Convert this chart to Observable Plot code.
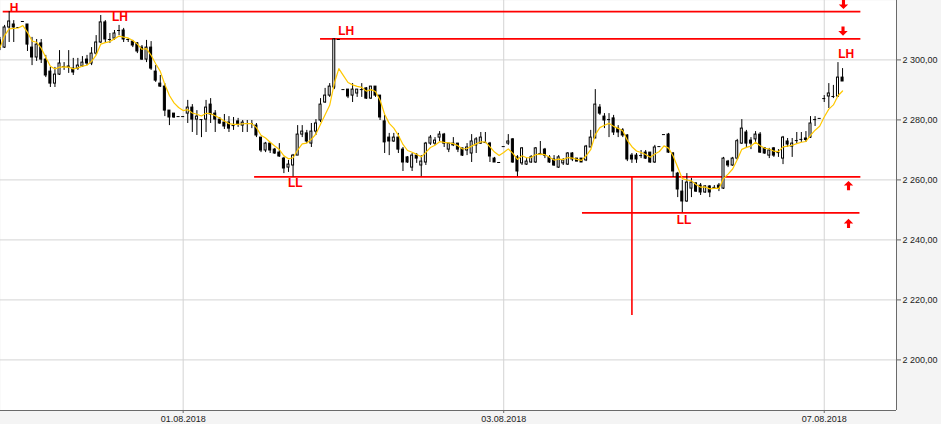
<!DOCTYPE html>
<html>
<head>
<meta charset="utf-8">
<script src="https://cdn.jsdelivr.net/npm/d3@7"></script>
<script src="https://cdn.jsdelivr.net/npm/@observablehq/plot@0.6"></script>
<style>
  html, body { margin: 0; padding: 0; background: #f4f4f4; }
</style>
</head>
<body>
<script>
// ---- DATA ----
const open = [2306.5,2304.1,2310.8,2311.8,2310.8,2312.8,2311.8,2304.1,2300.8,2305.5,
2300.1,2296.1,2292.1,2295.1,2297.8,2297.8,2297.1,2297.1,2297.8,2300.1,
2298.8,2302.1,2305.8,2312.5,2306.8,2307.1,2309.8,2309.8,2306.8,2306.1,
2305.5,2304.1,2300.1,2304.1,2296.1,2292.1,2291.1,2283.1,2282.1,2281.1,
2281.1,2282.1,2284.1,2280.1,2280.1,2280.1,2285.1,2282.1,2280.1,2279.1,
2279.1,2278.1,2279.5,2278.1,2278.8,2278.8,2278.1,2274.1,2269.8,2272.1,
2270.1,2269.1,2267.1,2264.1,2264.8,2268.1,2275.1,2275.5,2272.1,2276.1,
2279.8,2285.8,2288.1,2290.8,2306.8,2290.1,2290.1,2288.1,2288.8,2290.1,
2290.5,2287.1,2291.1,2288.1,2279.5,2274.1,2272.8,2274.1,2270.1,2267.5,
2264.1,2268.1,2264.8,2265.8,2272.1,2272.1,2274.1,2275.1,2270.1,2272.1,
2272.1,2270.5,2269.8,2268.8,2271.5,2272.1,2272.5,2272.1,2267.1,2265.8,
2271.1,2272.1,2273.5,2267.5,2265.5,2265.1,2265.8,2265.8,2268.8,2270.1,
2267.5,2266.8,2264.1,2265.5,2265.1,2268.8,2267.1,2267.1,2266.5,2270.8,
2273.8,2284.1,2281.1,2280.1,2280.5,2277.1,2276.5,2274.8,2268.1,2268.1,
2268.1,2269.1,2269.1,2265.8,2271.1,2275.1,2275.1,2268.8,2262.1,2256.1,
2252.8,2257.1,2258.8,2258.1,2255.8,2257.8,2257.5,2258.1,2257.1,2266.1,
2264.8,2267.1,2272.1,2275.8,2273.1,2273.5,2275.1,2270.5,2268.1,2270.5,
2269.1,2267.1,2272.8,2271.1,2273.1,2273.5,2273.8,2274.1,2280.1,2280.5,
2287.1,2287.8,2287.8,2287.8,2294.1];
const high = [2307.5,2311.5,2316.1,2313.1,2310.8,2312.8,2311.8,2307.5,2306.8,2306.8,
2301.5,2297.5,2297.5,2303.1,2299.1,2303.1,2300.5,2300.5,2301.1,2301.5,
2304.1,2308.1,2314.8,2313.1,2308.8,2309.8,2311.5,2310.5,2307.1,2306.5,
2305.8,2304.8,2306.5,2306.1,2298.1,2294.8,2292.1,2283.1,2282.1,2281.1,
2281.1,2286.5,2285.1,2283.1,2280.1,2286.5,2287.1,2283.1,2280.8,2281.8,
2281.1,2280.8,2280.5,2279.8,2279.8,2279.8,2278.8,2274.1,2272.5,2272.5,
2270.5,2272.1,2267.5,2266.5,2268.5,2278.1,2278.1,2276.5,2278.8,2280.1,
2287.1,2290.5,2292.1,2307.0,2306.8,2290.1,2290.1,2292.1,2290.1,2292.1,
2290.8,2291.1,2291.1,2288.1,2281.5,2275.5,2275.5,2275.5,2270.8,2267.8,
2268.8,2268.8,2268.1,2272.5,2274.8,2274.1,2276.1,2275.5,2272.1,2274.1,
2272.1,2270.5,2272.1,2275.1,2274.1,2275.8,2275.8,2272.5,2267.5,2265.8,
2271.1,2275.1,2273.8,2268.1,2270.8,2267.1,2268.1,2270.8,2272.8,2270.5,
2268.1,2268.1,2268.1,2267.1,2269.1,2269.1,2267.1,2267.1,2271.5,2276.5,
2290.1,2285.1,2282.1,2282.1,2281.5,2278.1,2277.1,2275.1,2268.8,2268.8,
2269.8,2269.8,2269.1,2271.5,2271.1,2275.1,2275.5,2269.1,2262.5,2259.8,
2262.1,2260.5,2259.1,2258.8,2258.1,2258.1,2258.1,2258.8,2267.5,2266.5,
2267.5,2273.5,2280.1,2276.5,2274.1,2276.1,2275.8,2270.8,2270.5,2270.8,
2270.1,2274.5,2273.8,2273.8,2275.8,2275.8,2276.1,2281.1,2281.1,2280.5,
2288.1,2292.1,2291.5,2299.1,2297.1];
const low = [2303.1,2303.8,2305.8,2305.8,2310.8,2312.8,2302.8,2298.1,2299.5,2298.8,
2294.1,2290.8,2290.8,2294.8,2296.5,2295.5,2294.8,2296.5,2297.5,2298.1,
2298.1,2301.5,2305.5,2305.5,2305.5,2306.5,2308.1,2305.8,2305.8,2304.1,
2302.1,2299.8,2299.1,2296.5,2292.5,2290.8,2281.1,2278.1,2280.5,2281.1,
2281.1,2278.8,2275.8,2274.8,2274.1,2275.8,2278.8,2275.8,2278.5,2276.8,
2275.8,2276.5,2277.5,2275.8,2275.8,2277.1,2274.1,2269.1,2269.1,2268.8,
2268.5,2267.5,2262.1,2262.5,2261.0,2268.1,2274.1,2272.1,2270.8,2274.8,
2279.1,2285.5,2287.5,2290.1,2306.8,2290.1,2287.1,2285.8,2287.5,2287.5,
2286.8,2286.8,2287.5,2279.8,2268.8,2268.1,2272.5,2268.8,2262.8,2265.5,
2262.8,2265.5,2261.1,2264.8,2271.5,2271.5,2272.8,2270.8,2269.1,2271.1,
2269.1,2267.8,2268.1,2265.8,2268.8,2271.8,2272.1,2265.8,2265.8,2265.8,
2271.1,2271.5,2265.5,2261.1,2264.8,2264.8,2265.5,2265.5,2268.1,2267.1,
2265.5,2264.5,2263.8,2264.8,2264.8,2266.1,2266.1,2265.8,2266.1,2270.8,
2273.8,2281.5,2277.1,2274.1,2274.8,2274.1,2274.1,2266.1,2265.5,2265.5,
2267.1,2266.8,2265.5,2265.5,2271.1,2275.1,2268.8,2260.8,2254.1,2249.1,
2252.5,2254.1,2255.8,2254.8,2255.5,2254.1,2257.1,2256.1,2256.8,2264.1,
2264.5,2266.5,2271.8,2270.5,2270.1,2272.5,2268.8,2268.5,2267.1,2267.5,
2267.5,2265.1,2270.8,2267.5,2272.1,2272.5,2272.5,2273.8,2277.8,2280.5,
2285.8,2283.8,2287.1,2287.5,2292.8];
const close = [2304.1,2310.8,2312.8,2310.8,2310.8,2312.8,2305.1,2300.8,2305.1,2300.1,
2294.8,2292.1,2295.1,2298.8,2297.8,2297.5,2295.8,2298.1,2299.1,2298.8,
2302.1,2305.8,2312.5,2306.8,2306.8,2308.8,2309.8,2306.8,2306.8,2304.8,
2302.8,2300.1,2304.1,2297.1,2293.1,2291.1,2283.1,2280.8,2280.8,2281.1,
2281.1,2284.1,2280.1,2281.1,2280.1,2284.1,2281.8,2280.1,2278.8,2277.8,
2277.1,2278.1,2278.5,2279.1,2278.8,2278.8,2274.8,2269.8,2272.1,2269.8,
2268.8,2267.8,2263.8,2265.1,2268.1,2275.1,2276.1,2272.8,2276.1,2278.8,
2285.1,2288.1,2291.1,2306.8,2306.8,2290.1,2287.8,2290.1,2290.1,2290.1,
2287.1,2291.1,2288.1,2280.8,2272.5,2272.8,2274.1,2270.1,2265.8,2265.8,
2268.1,2267.1,2266.1,2272.1,2274.1,2273.1,2275.1,2272.1,2272.1,2271.5,
2270.1,2268.1,2270.8,2272.8,2273.5,2274.1,2272.5,2267.8,2265.8,2265.8,
2271.1,2272.8,2265.8,2262.8,2270.5,2266.1,2267.5,2270.5,2268.8,2268.1,
2265.8,2264.8,2267.5,2266.5,2268.8,2266.8,2266.1,2265.8,2271.1,2274.1,
2285.1,2282.1,2279.8,2280.1,2275.8,2275.8,2274.8,2266.8,2266.8,2266.8,
2268.1,2267.1,2265.8,2270.8,2271.1,2275.1,2269.1,2262.8,2256.8,2252.8,
2259.1,2259.1,2256.1,2255.8,2257.8,2255.8,2257.5,2257.1,2267.1,2264.8,
2267.1,2272.9,2277.1,2272.1,2272.1,2275.1,2269.1,2268.8,2269.8,2268.1,
2269.1,2274.1,2271.8,2272.1,2273.1,2273.5,2273.3,2278.8,2280.1,2280.5,
2287.1,2288.8,2287.8,2294.1,2292.8];

// x tick positions (candle index) and their date labels
const xTickIndex = [40, 110, 180];
const xTickLabels = ["01.08.2018", "03.08.2018", "07.08.2018"];
// y ticks (price)
const yTicks = [2200, 2220, 2240, 2260, 2280, 2300];

// support / resistance levels (price, candle-index extent)
const levelPrice = [2316.1, 2307.0, 2261.0, 2249.0];
const levelFrom  = [0.7, 70, 55.6, 127.2];
const levelTo    = [188, 188, 188, 187.8];
// vertical red marker
const markerIndex = [138];
const markerFrom = [2261.0];
const markerTo = [2214.8];

// swing labels
const labelText  = ["H", "LH", "LH", "LH", "LL", "LL"];
const labelIndex = [3.06, 26.2, 75.6, 184.8, 64.5, 149.4];
const labelPrice = [2318.9, 2314.4, 2309.6, 2302.0, 2259.0, 2246.6];
const labelAnchor = ["top", "middle", "middle", "middle", "middle", "middle"];

// arrows
const arrowDir   = ["down", "down", "up", "up"];
const arrowIndex = [184.2, 184.1, 185.3, 185.3];
const arrowPrice = [2318.5, 2309.6, 2258.1, 2245.5];

// ---- BUILD ----
const candles = d3.range(open.length)
  .filter(i => open[i] != null)
  .map(i => ({i, o: open[i], h: high[i], l: low[i], c: close[i]}));
const up = candles.filter(d => d.c > d.o);
const down = candles.filter(d => d.c < d.o);
const doji = candles.filter(d => d.c === d.o);

const levels = levelPrice.map((p, k) => ({p, from: levelFrom[k], to: levelTo[k]}));
const markers = markerIndex.map((i, k) => ({i, y1: markerFrom[k], y2: markerTo[k]}));
const labels = labelText.map((t, k) => ({t, i: labelIndex[k], p: labelPrice[k], a: labelAnchor[k]}));
const arrows = arrowDir.map((d, k) => ({d, i: arrowIndex[k], p: arrowPrice[k]}));

const labelOf = new Map(xTickIndex.map((v, k) => [v, xTickLabels[k]]));
const fmt = d => d3.format(",.2f")(d).replace(/,/g, " ").replace(".", ",");

const arrowUp = {draw(ctx, size) {
  const r = Math.sqrt(size / Math.PI), s = r * 0.33;
  ctx.moveTo(0, -r); ctx.lineTo(r, 0); ctx.lineTo(s, 0); ctx.lineTo(s, r);
  ctx.lineTo(-s, r); ctx.lineTo(-s, 0); ctx.lineTo(-r, 0); ctx.closePath();
}};
const arrowDown = {draw(ctx, size) {
  const r = Math.sqrt(size / Math.PI), s = r * 0.33;
  ctx.moveTo(0, r); ctx.lineTo(r, 0); ctx.lineTo(s, 0); ctx.lineTo(s, -r);
  ctx.lineTo(-s, -r); ctx.lineTo(-s, 0); ctx.lineTo(-r, 0); ctx.closePath();
}};

// exponential moving average of the closes, as window reducer
const ema = (values) => {
  const a = 1 / 3; let w = 1, sw = 0, s = 0;
  for (let j = values.length - 1; j >= 0; --j) {
    const v = values[j];
    if (v != null && isFinite(v)) { s += w * v; sw += w; }
    w *= (1 - a);
  }
  return sw ? s / sw : NaN;
};

const xDomain = [0.109, 195.78];
const yDomain = [2183.13, 2319.8];
const font = "'Liberation Sans', Arial, sans-serif";
const textStyle = {x: "i", y: "p", text: "t", fill: "#ff0000", fontWeight: "bold", fontSize: 12, fontFamily: font};

const chart = Plot.plot({
  width: 941,
  height: 424,
  marginLeft: 0,
  marginRight: 45,
  marginTop: 0,
  marginBottom: 14,
  x: {type: "linear", domain: xDomain},
  y: {type: "linear", domain: yDomain},
  style: {background: "#f4f4f4", fontFamily: font, fontSize: "9px", color: "#222", overflow: "hidden"},
  marks: [
    Plot.frame({fill: "white", stroke: "none"}),
    Plot.ruleX(xTickIndex, {stroke: "#d4d4d4", strokeWidth: 1}),
    Plot.ruleY(yTicks, {stroke: "#d4d4d4", strokeWidth: 1}),
    Plot.ruleX([xDomain[1]], {stroke: "#6a6a6a"}),
    Plot.ruleY([yDomain[0]], {stroke: "#6a6a6a"}),
    Plot.axisY({anchor: "right", ticks: yTicks, tickFormat: fmt, tickSize: 4, tickPadding: 2, stroke: "#6a6a6a", fill: "#222", label: null, fontSize: 9}),
    Plot.axisX({anchor: "bottom", ticks: xTickIndex, tickFormat: d => labelOf.get(d), tickSize: 3, tickPadding: 2, stroke: "#6a6a6a", fill: "#222", label: null, fontSize: 9}),
    // red levels
    Plot.ruleY(levels, {y: "p", x1: "from", x2: "to", stroke: "#ff0000", strokeWidth: 1.6}),
    Plot.ruleX(markers, {x: "i", y1: "y1", y2: "y2", stroke: "#ff0000", strokeWidth: 1.6}),
    // candles
    Plot.ruleX(candles, {x: "i", y1: "l", y2: "h", stroke: "black", strokeWidth: 1}),
    Plot.rect(up, {x1: d => d.i - 0.22, x2: d => d.i + 0.22, y1: "o", y2: "c", fill: "white", stroke: "black", strokeWidth: 1}),
    Plot.rect(down, {x1: d => d.i - 0.22, x2: d => d.i + 0.22, y1: "o", y2: "c", fill: "black", stroke: "black", strokeWidth: 1}),
    Plot.ruleY(doji, {y: "c", x1: d => d.i - 0.33, x2: d => d.i + 0.33, stroke: "black", strokeWidth: 1}),
    // moving average
    Plot.lineY(candles, Plot.windowY({k: 16, anchor: "end", reduce: ema}, {x: "i", y: "c", stroke: "#ffc800", strokeWidth: 1.2})),
    // labels and arrows
    Plot.text(labels.filter(d => d.a === "top"), {...textStyle, lineAnchor: "top"}),
    Plot.text(labels.filter(d => d.a === "middle"), {...textStyle, lineAnchor: "middle"}),
    Plot.dot(arrows.filter(d => d.d === "up"), {x: "i", y: "p", symbol: arrowUp, r: 4.7, fill: "#ff0000", stroke: "none"}),
    Plot.dot(arrows.filter(d => d.d === "down"), {x: "i", y: "p", symbol: arrowDown, r: 4.7, fill: "#ff0000", stroke: "none"})
  ]
});
document.body.appendChild(chart);
</script>
</body>
</html>
